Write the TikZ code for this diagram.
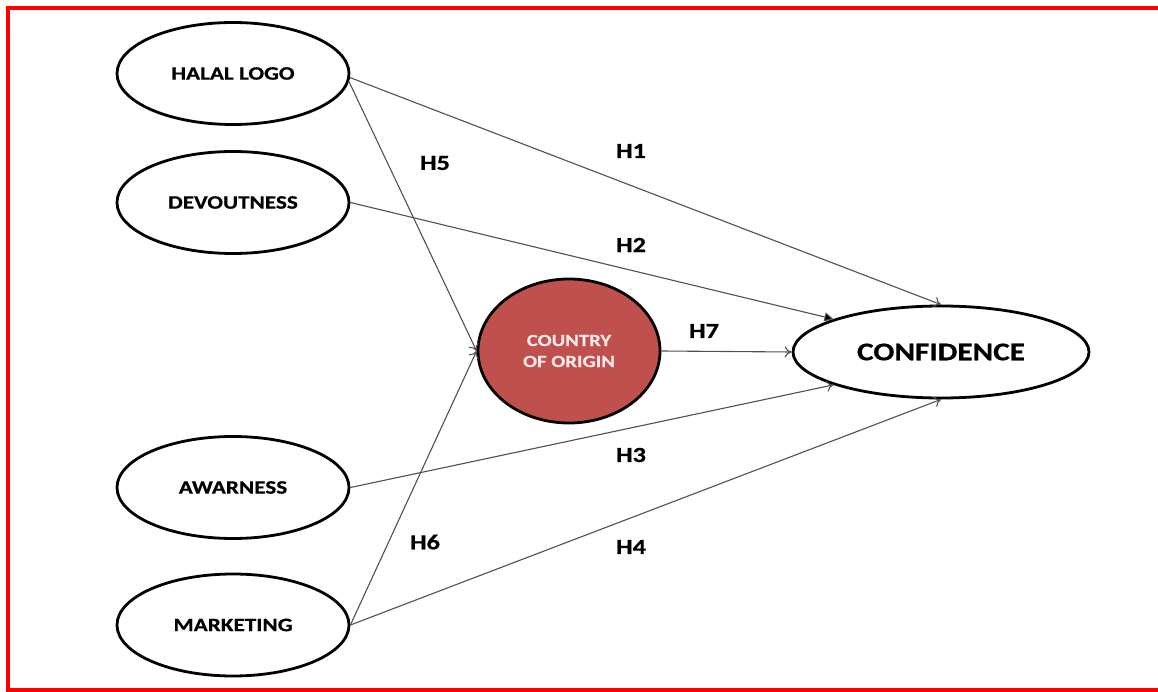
\documentclass[tikz,border=0pt]{standalone}
\usepackage{fontspec}
\setmainfont{Carlito}[FakeStretch=1.22,FakeBold=0.6]
\usetikzlibrary{shapes.geometric,arrows.meta}
\definecolor{coored}{HTML}{C0504D}
\definecolor{cootext}{HTML}{FCE8E8}
\definecolor{linegrey}{HTML}{505050}
\tikzset{
  construct/.style={ellipse,draw=black,line width=2.8pt,fill=white,inner sep=0pt,
    minimum width=232pt,minimum height=102pt,font=\bfseries\fontsize{19}{21}\selectfont},
  mediator/.style={ellipse,draw=black,line width=2.8pt,fill=coored,inner sep=0pt,
    minimum width=182pt,minimum height=144pt,text=cootext,align=center,
    font=\bfseries\fontsize{17}{21}\selectfont},
  outcome/.style={ellipse,draw=black,line width=2.8pt,fill=white,inner sep=0pt,
    minimum width=296pt,minimum height=92pt,font=\bfseries\fontsize{25.6}{28}\selectfont},
  hyp/.style={font=\bfseries\fontsize{21.5}{24}\selectfont},
  link/.style={draw=linegrey,line width=1.1pt,-{To[length=7pt,width=11pt]}},
  flink/.style={draw=linegrey,line width=1.1pt,-{Triangle[length=9pt,width=9pt,fill=black]}},
}
\begin{document}
\begin{tikzpicture}[x=1pt,y=-1pt]
\useasboundingbox (0,0) rectangle (1158,692);
% frame
\draw[red,line width=4pt] (8,692) -- (8,8) -- (1158,8);
\draw[red,line width=4pt] (6,690) -- (1158,690);
% nodes
\node[construct] (hl) at (233,73.5) {HALAL LOGO};
\node[construct] (dv) at (233,202.5) {DEVOUTNESS};
\node[construct] (aw) at (233,487.5) {AWARNESS};
\node[construct] (mk) at (233,625) {MARKETING};
\node[mediator] (co) at (569,351) {COUNTRY\\OF ORIGIN};
\node[outcome] (cf) at (941,352) {CONFIDENCE};
% connectors
\draw[link] (hl.-2) -- (cf.north);
\draw[link] (hl.-4) -- (co.west);
\draw[flink] (dv.east) -- (cf.163.5);
\draw[link] (co.east) -- (cf.west);
\draw[link] (aw.east) -- (cf.197.8);
\draw[link] (mk.east) -- (co.west);
\draw[link] (mk.east) -- (cf.south);
% labels
\node[hyp] (h1) at (631,151) {H1};
\node[hyp] (h5) at (435,163) {H5};
\node[hyp] (h2) at (631,245) {H2};
\node[hyp] (h7) at (704,331) {H7};
\node[hyp] (h3) at (631,455) {H3};
\node[hyp] (h6) at (425,542) {H6};
\node[hyp] (h4) at (631,547) {H4};
\end{tikzpicture}
\end{document}
